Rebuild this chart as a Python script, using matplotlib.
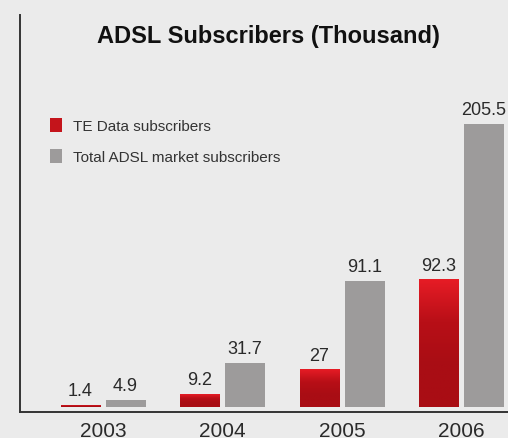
import numpy as np
import matplotlib
matplotlib.use("Agg")
import matplotlib.pyplot as plt
from matplotlib.colors import LinearSegmentedColormap

years = ["2003", "2004", "2005", "2006"]
te_data = [1.4, 9.2, 27, 92.3]
total_market = [4.9, 31.7, 91.1, 205.5]
series_names = ["TE Data subscribers", "Total ADSL market subscribers"]

bg = "#ebebeb"
red = "#c4141b"
gray = "#9d9b9b"
text_col = "#2a2a2a"

plt.rcParams["font.family"] = ["Liberation Sans", "DejaVu Sans"]

fig = plt.figure(figsize=(5.08, 4.39), dpi=100, facecolor=bg)
ax = fig.add_axes([20 / 508, (439 - 412.5) / 439, 488 / 508, 396.5 / 439])
ax.set_facecolor(bg)

x = np.arange(len(years))
width = 40 / 119.5
off = 22.5 / 119.5

red_bars = ax.bar(x - off, te_data, width, color=red, label=series_names[0], zorder=2)
gray_bars = ax.bar(x + off, total_market, width, color=gray, label=series_names[1], zorder=2)

# red bars get a top-to-bottom gradient
cmap = LinearSegmentedColormap.from_list("redgrad", ["#e61c25", "#b80f17", "#a90d14", "#a90d14"])
grad = np.linspace(0, 1, 100).reshape(-1, 1)
for bar in red_bars:
    bx, by, bw, bh = bar.get_x(), bar.get_y(), bar.get_width(), bar.get_height()
    im = ax.imshow(grad, extent=[bx, bx + bw, by, by + bh], aspect="auto",
                   cmap=cmap, origin="upper", zorder=3)
    im.set_clip_path(bar)

for bars, vals in [(red_bars, te_data), (gray_bars, total_market)]:
    for bar, v in zip(bars, vals):
        ax.annotate(f"{v:g}", (bar.get_x() + bar.get_width() / 2, bar.get_height()),
                    xytext=(0, 4), textcoords="offset points", ha="center", va="bottom",
                    fontsize=13, color=text_col, zorder=4)

ax.set_xlim(-83 / 119.5, -83 / 119.5 + 488 / 119.5)
ax.set_ylim(-5 / 1.377, -5 / 1.377 + 396.5 / 1.377)

ax.set_xticks(x)
ax.set_xticklabels(years, fontsize=15, color=text_col)
ax.tick_params(axis="x", length=0, pad=6.5)
ax.set_yticks([])
for s in ["top", "right"]:
    ax.spines[s].set_visible(False)
for s in ["left", "bottom"]:
    ax.spines[s].set_color("#333333")
    ax.spines[s].set_linewidth(1.4)

leg = ax.legend(loc="upper left", bbox_to_anchor=(0.034, 0.775), frameon=False,
                fontsize=11, handlelength=0.75, handleheight=1.0,
                handletextpad=0.75, labelspacing=1.05)
for t in leg.get_texts():
    t.set_color("#333333")

fig.text(268 / 508, 1 - 36 / 439, "ADSL Subscribers (Thousand)", ha="center", va="center",
         fontsize=17, fontweight="bold", color="#111111")

fig.savefig("out.png", dpi=100, facecolor=bg)
